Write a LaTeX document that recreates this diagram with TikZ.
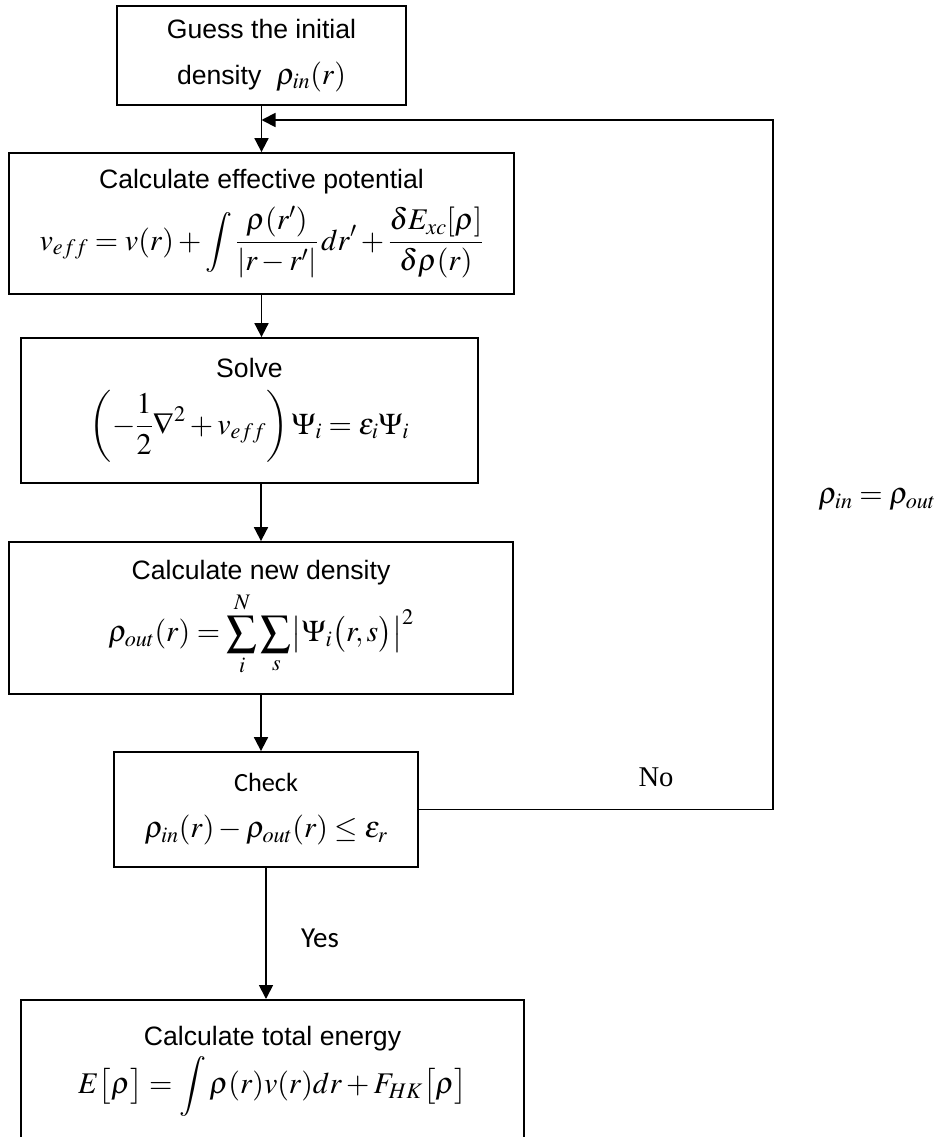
\documentclass[tikz,border=0pt]{standalone}
\usepackage{amsmath}
\usepackage{mathptmx}
\usepackage[no-math]{fontspec}
\setmainfont{Liberation Sans}
\newfontfamily\calibfont{Carlito}
\newfontfamily\timesfont{Liberation Serif}
\usepackage{tikz}
\usetikzlibrary{arrows.meta}
\newcommand{\eqsize}{\fontsize{30}{34}\selectfont}
\tikzset{
  stepbox/.style={draw, line width=1.8pt, align=center, inner sep=0pt,
    font=\fontsize{26.6}{32}\selectfont},
  flow/.style={-{Triangle[length=14pt,width=14pt]}, line width=1.8pt},
}

\begin{document}
\begin{tikzpicture}[x=1pt,y=-1pt]
    \useasboundingbox (0,0) rectangle (944,1137);
    \clip (0,0) rectangle (944,1137);
    % the steps of the loop
    \node[stepbox, minimum width=289, minimum height=99] (guess) at (261.5,55.5)
        {Guess the initial\\[14pt] density\ \ {\eqsize$\rho_{in}(r)$}};
    \node[stepbox, minimum width=505, minimum height=141] (effpot) at (261.5,223.5)
        {Calculate effective potential\\[12pt]
         {\eqsize$v_{eff}=v(r)+\displaystyle\int\frac{\rho(r')}{|r-r'|}\,dr'+\frac{\delta E_{xc}[\rho]}{\delta\rho(r)}$}};
    \node[stepbox, minimum width=457, minimum height=145] (solve) at (249.5,410.5)
        {Solve\\[12pt]
         {\eqsize$\displaystyle\left(-\frac{1}{2}\nabla^2+v_{eff}\right)\Psi_i=\varepsilon_i\Psi_i$}};
    \node[stepbox, minimum width=504, minimum height=152] (newdens) at (261,618)
        {Calculate new density\\[6pt]
         {\eqsize$\displaystyle\rho_{out}(r)=\sum_{i}^{N}\sum_{s}\bigl|\Psi_i\bigl(r,s\bigr)\bigr|^2$}};
    \node[stepbox, minimum width=304, minimum height=115] (check) at (266,809.5)
        {{\calibfont\fontsize{26.3}{30}\selectfont Check}\\[14pt]
         {\eqsize$\rho_{in}(r)-\rho_{out}(r)\le\varepsilon_r$}};
    \node[stepbox, minimum width=503, anchor=north] (total) at (272.5,999)
        {\rule{0pt}{46pt}Calculate total energy\\[4pt]
         {\eqsize$E\bigl[\rho\bigr]=\displaystyle\int\rho(r)v(r)dr+F_{HK}\bigl[\rho\bigr]$}\\
         \rule{0pt}{120pt}};
    % feedback
    \coordinate (merge) at (261.5,120);
    \coordinate (corner) at (773,120);
    \draw[flow] (guess) -- (effpot);
    \draw[flow] (effpot.south) -- (effpot.south |- solve.north);
    \draw[flow] (newdens.north |- solve.south) -- (newdens.north);
    \draw[flow] (newdens.south) -- (newdens.south |- check.north);
    \draw[flow] (check.south) -- (check.south |- total.north);
    \draw[flow] (check.east) -| (corner) -- (merge);
    \node (no) at (656,777) {\timesfont\fontsize{28.6}{32}\selectfont No};
    \node (yes) at (320,938) {\calibfont\fontsize{29}{32}\selectfont Yes};
    \node (update) at (877,500) {\eqsize$\rho_{in}=\rho_{out}$};
\end{tikzpicture}
\end{document}
